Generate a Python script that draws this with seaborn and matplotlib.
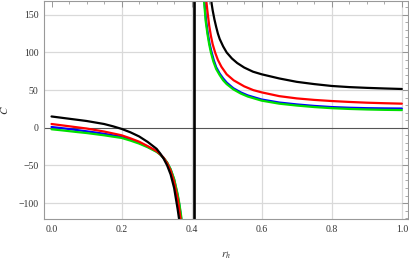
import numpy as np
import pandas as pd
import matplotlib
matplotlib.use("Agg")
import matplotlib.pyplot as plt
import seaborn as sns
from matplotlib.ticker import MultipleLocator

# values (C vs r_h), two branches per curve
black_l_x = [0.0, 0.025, 0.05, 0.075, 0.1, 0.125, 0.15, 0.175, 0.2, 0.225, 0.25, 0.275, 0.3, 0.31, 0.32,
             0.33, 0.34, 0.35, 0.355, 0.36, 0.365, 0.368]
black_l_y = [15, 13.5, 12, 10.5, 9, 7, 5, 2, -1.5, -6, -11.5, -19, -28, -34, -41,
             -50, -62, -80, -94, -108, -124, -134]
red_l_x = [0.0, 0.025, 0.05, 0.075, 0.1, 0.125, 0.15, 0.175, 0.2, 0.225, 0.25, 0.275, 0.3, 0.31, 0.32,
           0.33, 0.34, 0.35, 0.36, 0.365, 0.37, 0.373]
red_l_y = [5, 3.5, 2, 0.5, -1, -3, -5, -7.5, -10, -14, -18.5, -24.5, -31, -35, -40,
           -47, -57, -72, -94, -109, -127, -140]
blue_l_x = [0.0, 0.025, 0.05, 0.075, 0.1, 0.125, 0.15, 0.175, 0.2, 0.225, 0.25, 0.275, 0.3, 0.31, 0.32,
            0.33, 0.34, 0.35, 0.36, 0.365, 0.37, 0.375]
blue_l_y = [1, -0.3, -1.7, -3.2, -4.7, -6.3, -8, -10, -12, -15.5, -19.8, -25.3, -31.5, -35.2, -40,
            -46.5, -55.5, -69, -90, -103, -120, -140]
green_l_x = [0.0, 0.025, 0.05, 0.075, 0.1, 0.125, 0.15, 0.175, 0.2, 0.225, 0.25, 0.275, 0.3, 0.31, 0.32,
             0.33, 0.34, 0.35, 0.36, 0.365, 0.37, 0.375]
green_l_y = [-2, -3.2, -4.5, -5.8, -7, -8.5, -10, -11.8, -13.5, -17, -21, -26, -32, -35.5, -40,
             -46, -55, -68, -88, -101, -117, -136]

black_r_x = [0.455, 0.457, 0.46, 0.465, 0.47, 0.475, 0.48, 0.49, 0.5, 0.515, 0.53, 0.55, 0.575, 0.6,
             0.65, 0.7, 0.75, 0.8, 0.85, 0.9, 0.95, 1.0]
black_r_y = [176, 165, 156, 144, 134, 125, 118, 108, 100, 92, 86, 80, 74.5, 71,
             65.5, 61, 58, 55.5, 54, 53, 52.2, 51.5]
red_r_x = [0.439, 0.441, 0.445, 0.45, 0.455, 0.46, 0.467, 0.475, 0.485, 0.5, 0.52, 0.55, 0.576, 0.6,
           0.65, 0.7, 0.75, 0.8, 0.85, 0.9, 0.95, 1.0]
red_r_y = [180, 172, 155, 136, 122, 111, 100, 90, 81, 71, 63, 55, 50, 47,
           42, 39, 37, 35.5, 34.3, 33.3, 32.6, 32]
blue_r_x = [0.435, 0.437, 0.441, 0.446, 0.451, 0.456, 0.463, 0.47, 0.48, 0.49, 0.5, 0.519, 0.54, 0.56,
            0.6, 0.65, 0.7, 0.75, 0.8, 0.85, 0.9, 0.95, 1.0]
blue_r_y = [175, 165, 143, 126, 112, 102, 90, 80.5, 72, 65.5, 60, 52.5, 47, 43,
            37.5, 33.5, 31, 29, 27.5, 26.6, 26, 25.7, 25.5]
green_r_x = [0.434, 0.436, 0.44, 0.445, 0.45, 0.455, 0.462, 0.47, 0.48, 0.49, 0.5, 0.519, 0.54, 0.56,
             0.6, 0.65, 0.7, 0.75, 0.8, 0.85, 0.9, 0.95, 1.0]
green_r_y = [175, 165, 142, 125, 111, 100, 88, 78, 70, 63, 58, 51, 45.5, 41.5,
             36, 32, 29.5, 27.5, 26, 25, 24.3, 23.8, 23.5]

pole_x = [0.407, 0.407]
pole_y = [-135, 180]

sns.set_theme(style="white")
plt.rcParams['font.family'] = ['Liberation Serif', 'DejaVu Serif']
plt.rcParams['mathtext.fontset'] = 'stix'

fig = plt.figure(figsize=(4.09, 2.61), dpi=100)
ax = fig.add_axes([0.108, 0.16, 0.889, 0.838])

gridc = '#d9d9d9'
for gx in [0.2, 0.4, 0.6, 0.8, 1.0]:
    ax.axvline(gx, color=gridc, lw=0.9, zorder=0)
for gy in [-100, -50, 50, 100, 150]:
    ax.axhline(gy, color=gridc, lw=0.9, zorder=0)
ax.axhline(0, color='#555555', lw=0.8, zorder=1)

series = [
    (blue_l_x, blue_l_y, blue_r_x, blue_r_y, '#0000ff'),
    (green_l_x, green_l_y, green_r_x, green_r_y, '#00e000'),
    (red_l_x, red_l_y, red_r_x, red_r_y, '#ff0000'),
    (black_l_x, black_l_y, black_r_x, black_r_y, '#000000'),
]
for lx, ly, rx, ry, col in series:
    sns.lineplot(x=lx, y=ly, ax=ax, color=col, lw=1.6, estimator=None, sort=False)
    sns.lineplot(x=rx, y=ry, ax=ax, color=col, lw=1.6, estimator=None, sort=False)
sns.lineplot(x=pole_x, y=pole_y, ax=ax, color='black', lw=1.9, estimator=None, sort=False)

ax.set_xlim(-0.021, 1.017)
ax.set_ylim(-121.5, 169)
ax.xaxis.set_major_locator(MultipleLocator(0.2))
ax.xaxis.set_minor_locator(MultipleLocator(0.05))
ax.yaxis.set_major_locator(MultipleLocator(50))
ax.yaxis.set_minor_locator(MultipleLocator(10))
ax.set_xticks([0.0, 0.2, 0.4, 0.6, 0.8, 1.0])
ax.set_xticklabels(['0.0', '0.2', '0.4', '0.6', '0.8', '1.0'])
ax.tick_params(which='both', direction='in', top=True, right=True, colors='#888888',
               labelcolor='#333333', labelsize=7)
ax.tick_params(which='major', length=4, width=0.6, pad=4)
ax.tick_params(which='minor', length=2, width=0.5)
for s in ax.spines.values():
    s.set_color('#999999')
    s.set_linewidth(0.8)

ax.set_xlabel(r'$r_h$', fontsize=8, color='#333333', labelpad=12)
ax.set_ylabel(r'$C$', fontsize=8, color='#333333', labelpad=6)

fig.savefig('out.png', dpi=100)
